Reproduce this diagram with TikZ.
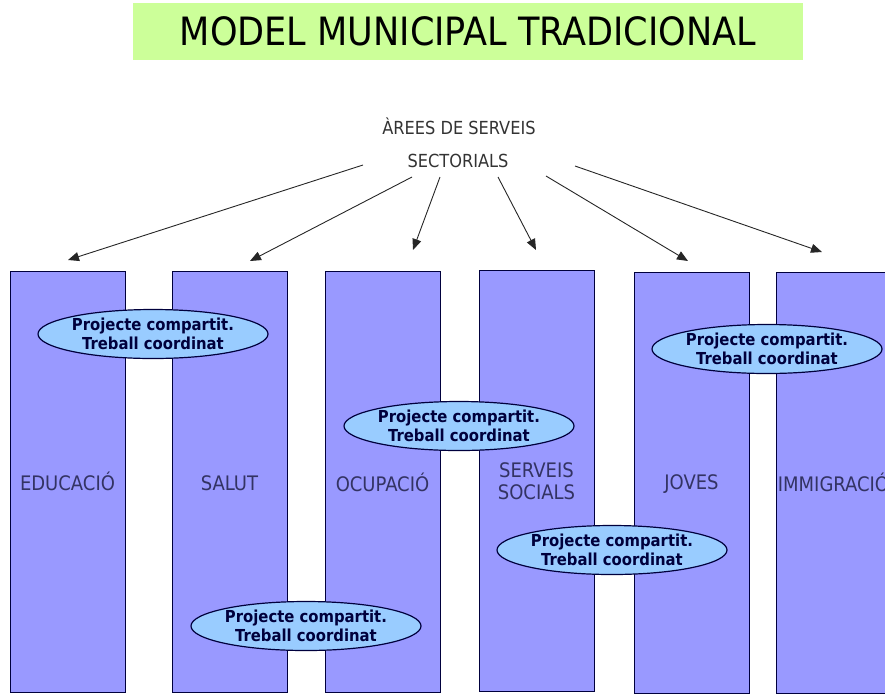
\documentclass[tikz,border=0pt]{standalone}
\usepackage{fontspec}
\usepackage{tikz}
\usetikzlibrary{arrows.meta,shapes.geometric}
\setmainfont{DejaVu Sans Condensed}
\definecolor{colfill}{RGB}{153,153,255}
\definecolor{ellfill}{RGB}{153,204,255}
\definecolor{navy}{RGB}{0,0,60}
\definecolor{titlegreen}{RGB}{204,255,153}

\begin{document}
\begin{tikzpicture}
  [x=1pt,y=-1pt,
   col/.style={rectangle,draw=navy,fill=colfill,line width=1pt,minimum height=421pt,text width=115pt,inner sep=0pt,align=center,font=\fontsize{20}{22}\selectfont,text=navy!80},
   proj/.style={ellipse,draw=navy,fill=ellfill,line width=1.2pt,minimum width=230pt,minimum height=49pt,inner xsep=-12pt,inner ysep=-8pt,align=center,font=\bfseries\fontsize{16.5}{19.5}\selectfont,text=navy},
   arr/.style={-{Triangle[length=11pt,width=9pt]},line width=0.9pt,black!85}]

  \useasboundingbox (0,0) rectangle (885,694);
  \clip (0,0) rectangle (885,694);

  % title
  \node[fill=titlegreen,minimum width=670pt,minimum height=57pt,font=\fontsize{39}{46}\selectfont] (title) at (468,31.5) {MODEL MUNICIPAL TRADICIONAL};

  \node[font=\fontsize{18}{22}\selectfont,text=black!80] (areas) at (459,126) {ÀREES DE SERVEIS};
  \node[font=\fontsize{18}{22}\selectfont,text=black!80] (sect) at (458,161) {SECTORIALS};

  % columns
  \node[col] (educ) at (67.5,481.5) {EDUCACIÓ};
  \node[col] (salut) at (229.5,481.5) {\vphantom{Ó}SALUT};
  \node[col] (ocup) at (382.5,482) {OCUPACIÓ};
  \node[col] (serv) at (536.5,481) {SERVEIS\\SOCIALS};
  \node[col] (joves) at (691.5,482.5) {\vphantom{Ó}JOVES};
  \node[col] (immig) at (833.5,482.5) {IMMIGRACIÓ};

  % arrows
  \coordinate (s1) at (363,165);
  \coordinate (s2) at (412,177);
  \coordinate (s3) at (440,177);
  \coordinate (s4) at (498,177);
  \coordinate (s5) at (546,176);
  \coordinate (s6) at (575,166);
  \coordinate (e1) at (68,260);
  \coordinate (e2) at (250,261);
  \coordinate (e3) at (413,250);
  \coordinate (e4) at (536,250);
  \coordinate (e5) at (688,261);
  \coordinate (e6) at (822,252);
  \foreach \from/\to in {s1/e1,s2/e2,s3/e3,s4/e4,s5/e5,s6/e6}
    \draw[arr] (\from) -- (\to);

  % shared projects
  \node[proj] (p1) at (153,334) {Projecte compartit.\\Treball coordinat};
  \node[proj] (p2) at (767,349) {Projecte compartit.\\Treball coordinat};
  \node[proj] (p3) at (459,426) {Projecte compartit.\\Treball coordinat};
  \node[proj] (p4) at (612,550) {Projecte compartit.\\Treball coordinat};
  \node[proj] (p5) at (306,626) {Projecte compartit.\\Treball coordinat};
\end{tikzpicture}
\end{document}
